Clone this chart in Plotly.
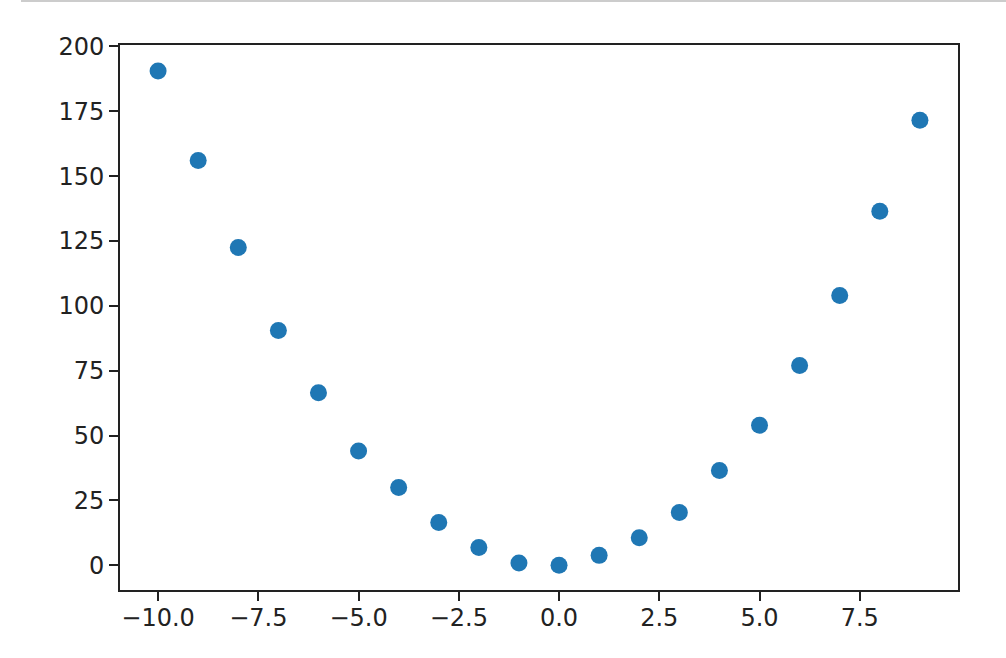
import plotly.graph_objects as go

x_vals = [-10, -9, -8, -7, -6, -5, -4, -3, -2, -1, 0, 1, 2, 3, 4, 5, 6, 7, 8, 9]
y_vals = [190.5, 156.0, 122.5, 90.5, 66.5, 44.0, 30.0, 16.5, 6.8, 0.9, 0.0, 3.8, 10.6, 20.3, 36.5, 54.0, 77.0, 104.0, 136.5, 171.5]

x_ticks = [-10.0, -7.5, -5.0, -2.5, 0.0, 2.5, 5.0, 7.5]
y_ticks = [0, 25, 50, 75, 100, 125, 150, 175, 200]

fig = go.Figure()
fig.add_trace(go.Scatter(
    x=x_vals, y=y_vals, mode="markers",
    marker=dict(color="#1f77b4", size=17, line=dict(width=0)),
    showlegend=False, hoverinfo="x+y",
))

axis_common = dict(
    showline=True, linecolor="#222222", linewidth=2, mirror=True,
    ticks="outside", ticklen=9, tickwidth=2, tickcolor="#222222",
    showgrid=False, zeroline=False,
    tickfont=dict(family="DejaVu Sans", size=24, color="#222222"),
)

fig.update_xaxes(range=[-10.95, 9.95], tickvals=x_ticks, tickformat=".1f",
                 ticklabelstandoff=-4, **axis_common)
fig.update_yaxes(range=[-9.55, 200.55], tickvals=y_ticks, **axis_common)

fig.add_shape(type="line", xref="paper", yref="paper",
              x0=(21 - 120) / 838, x1=(1006 - 120) / 838,
              y0=(590 - 1) / 545, y1=(590 - 1) / 545,
              line=dict(color="#cccccc", width=2))

fig.update_layout(
    width=1006, height=658,
    margin=dict(l=120, r=48, t=45, b=68),
    paper_bgcolor="white", plot_bgcolor="white",
)

fig.write_html("out.html", config={"displayModeBar": False},
               post_script="document.body.style.margin='0';document.body.style.overflow='hidden';")
